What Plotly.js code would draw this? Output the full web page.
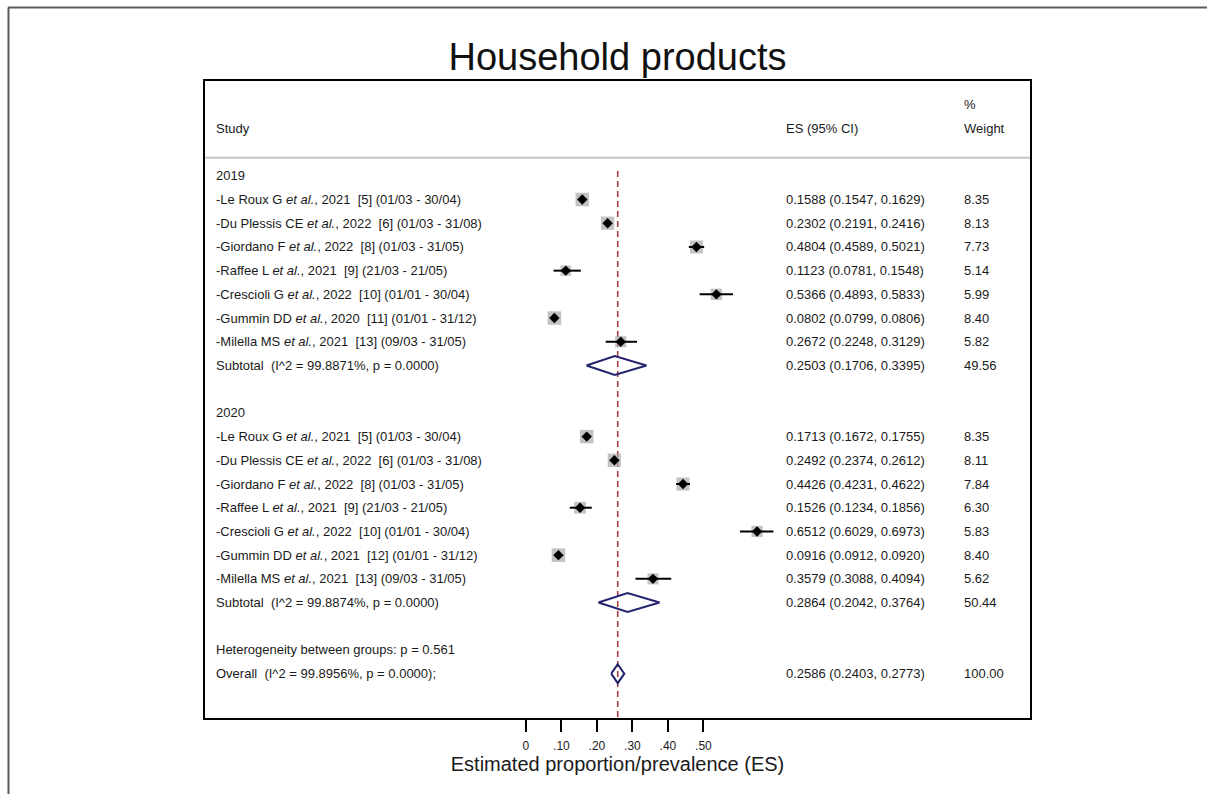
<!DOCTYPE html>
<html><head><meta charset="utf-8">
<script src="https://cdn.plot.ly/plotly-3.0.1.min.js"></script>
<style>html,body{margin:0;padding:0;background:#fff;} #chart{width:1207px;height:794px;}</style>
</head><body><div id="chart"></div>
<script>
// ---------------- data ----------------
const chartTitle = "Household products";
const xTitle = "Estimated proportion/prevalence (ES)";
const tickVals = [0, 0.1, 0.2, 0.3, 0.4, 0.5];
const tickText = ["0", ".10", ".20", ".30", ".40", ".50"];

const groupNames = ["2019", "2020"];

const studies2019 = [
  "-Le Roux G <i>et al.</i>, 2021 \u00a0[5] (01/03 - 30/04)",
  "-Du Plessis CE <i>et al.</i>, 2022 \u00a0[6] (01/03 - 31/08)",
  "-Giordano F <i>et al.</i>, 2022 \u00a0[8] (01/03 - 31/05)",
  "-Raffee L <i>et al.</i>, 2021 \u00a0[9] (21/03 - 21/05)",
  "-Crescioli G <i>et al.</i>, 2022 \u00a0[10] (01/01 - 30/04)",
  "-Gummin DD <i>et al.</i>, 2020 \u00a0[11] (01/01 - 31/12)",
  "-Milella MS <i>et al.</i>, 2021 \u00a0[13] (09/03 - 31/05)"
];
const es2019 = [0.1588, 0.2302, 0.4804, 0.1123, 0.5366, 0.0802, 0.2672];
const lo2019 = [0.1547, 0.2191, 0.4589, 0.0781, 0.4893, 0.0799, 0.2248];
const hi2019 = [0.1629, 0.2416, 0.5021, 0.1548, 0.5833, 0.0806, 0.3129];
const wt2019 = [8.35, 8.13, 7.73, 5.14, 5.99, 8.40, 5.82];

const studies2020 = [
  "-Le Roux G <i>et al.</i>, 2021 \u00a0[5] (01/03 - 30/04)",
  "-Du Plessis CE <i>et al.</i>, 2022 \u00a0[6] (01/03 - 31/08)",
  "-Giordano F <i>et al.</i>, 2022 \u00a0[8] (01/03 - 31/05)",
  "-Raffee L <i>et al.</i>, 2021 \u00a0[9] (21/03 - 21/05)",
  "-Crescioli G <i>et al.</i>, 2022 \u00a0[10] (01/01 - 30/04)",
  "-Gummin DD <i>et al.</i>, 2021 \u00a0[12] (01/01 - 31/12)",
  "-Milella MS <i>et al.</i>, 2021 \u00a0[13] (09/03 - 31/05)"
];
const es2020 = [0.1713, 0.2492, 0.4426, 0.1526, 0.6512, 0.0916, 0.3579];
const lo2020 = [0.1672, 0.2374, 0.4231, 0.1234, 0.6029, 0.0912, 0.3088];
const hi2020 = [0.1755, 0.2612, 0.4622, 0.1856, 0.6973, 0.0920, 0.4094];
const wt2020 = [8.35, 8.11, 7.84, 6.30, 5.83, 8.40, 5.62];

const subtotalLabels = ["Subtotal \u00a0(I^2 = 99.8871%, p = 0.0000)", "Subtotal \u00a0(I^2 = 99.8874%, p = 0.0000)"];
const subtotalES = [0.2503, 0.2864];
const subtotalLo = [0.1706, 0.2042];
const subtotalHi = [0.3395, 0.3764];
const subtotalWt = [49.56, 50.44];

const heteroLabel = "Heterogeneity between groups: p = 0.561";
const overallLabel = "Overall \u00a0(I^2 = 99.8956%, p = 0.0000);";
const overallES = 0.2586, overallLo = 0.2403, overallHi = 0.2773, overallWt = 100.00;

// ---------------- layout constants ----------------
const FONT = "Liberation Sans, Arial, sans-serif";
const TXT = "#1a1a1a";
const YTOP = -4.0, YBOT = 22.87;
const colStudy = 0.0125, colES = 0.703, colWt = 0.9185;
const DIAM_H = 0.4;
const NAVY = "#23236e";

const groupData = [
  {names: studies2019, es: es2019, lo: lo2019, hi: hi2019, wt: wt2019},
  {names: studies2020, es: es2020, lo: lo2020, hi: hi2020, wt: wt2020}
];

const annotations = [];
function txt(text, xp, y, size) {
  annotations.push({text: text, xref: "paper", yref: "y", x: xp, y: y, xanchor: "left", yanchor: "middle",
    showarrow: false, font: {family: FONT, size: size || 13, color: TXT}, borderpad: 0});
}
const ciText = (e, l, h) => e.toFixed(4) + " (" + l.toFixed(4) + ", " + h.toFixed(4) + ")";

// header
txt("Study", colStudy, -2);
txt("ES (95% CI)", colES, -2);
txt("%", colWt, -3);
txt("Weight", colWt, -2);

const sqX = [], sqY = [], sqS = [];
const ptX = [], ptY = [], ptP = [], ptM = [];
const traces = [];
let row = 0;
groupData.forEach((g, gi) => {
  txt(groupNames[gi], colStudy, row);
  row++;
  g.es.forEach((e, i) => {
    txt(g.names[i], colStudy, row);
    txt(ciText(e, g.lo[i], g.hi[i]), colES, row);
    txt(g.wt[i].toFixed(2), colWt, row);
    sqX.push(e); sqY.push(row); sqS.push(4.66 * Math.sqrt(g.wt[i]));
    ptX.push(e); ptY.push(row); ptP.push(g.hi[i] - e); ptM.push(e - g.lo[i]);
    row++;
  });
  txt(subtotalLabels[gi], colStudy, row);
  txt(ciText(subtotalES[gi], subtotalLo[gi], subtotalHi[gi]), colES, row);
  txt(subtotalWt[gi].toFixed(2), colWt, row);
  traces.push({type: "scatter", mode: "lines", hoverinfo: "skip",
    x: [subtotalLo[gi], subtotalES[gi], subtotalHi[gi], subtotalES[gi], subtotalLo[gi]],
    y: [row, row - DIAM_H, row, row + DIAM_H, row],
    line: {color: NAVY, width: 2}});
  row += 2;
});
txt(heteroLabel, colStudy, row);
row++;
txt(overallLabel, colStudy, row);
txt(ciText(overallES, overallLo, overallHi), colES, row);
txt(overallWt.toFixed(2), colWt, row);
traces.push({type: "scatter", mode: "lines", hoverinfo: "skip",
  x: [overallLo, overallES, overallHi, overallES, overallLo],
  y: [row, row - DIAM_H, row, row + DIAM_H, row],
  line: {color: NAVY, width: 2}});

traces.unshift({type: "scatter", mode: "markers", hoverinfo: "skip", x: ptX, y: ptY,
  marker: {symbol: "diamond", size: 8, color: "#000"},
  error_x: {type: "data", symmetric: false, array: ptP, arrayminus: ptM, thickness: 2, width: 0, color: "#000"}});
traces.unshift({type: "scatter", mode: "markers", hoverinfo: "skip", x: sqX, y: sqY,
  marker: {symbol: "square", size: sqS, color: "#a9a9a9", line: {width: 0}}});

const layout = {
  width: 1207, height: 794,
  margin: {l: 205, r: 177, t: 81, b: 76},
  paper_bgcolor: "#fff", plot_bgcolor: "#fff",
  showlegend: false,
  font: {family: FONT, color: TXT},
  title: {text: chartTitle, font: {family: FONT, size: 38, color: "#111"},
    xref: "paper", x: 0.5, xanchor: "center", yref: "container", y: 0.928, yanchor: "middle"},
  xaxis: {range: [-0.904, 1.42], showgrid: false, zeroline: false,
    showline: true, mirror: true, linecolor: "#000", linewidth: 2,
    tickmode: "array", tickvals: tickVals, ticktext: tickText,
    ticks: "outside", ticklen: 12, tickwidth: 2, tickcolor: "#000",
    ticklabelstandoff: 4,
    tickfont: {family: FONT, size: 12, color: TXT},
    title: {text: xTitle, font: {family: FONT, size: 20, color: TXT}, standoff: 4}},
  yaxis: {range: [YBOT, YTOP], showgrid: false, zeroline: false, showticklabels: false,
    showline: true, mirror: true, linecolor: "#000", linewidth: 2, ticks: ""},
  annotations: annotations,
  shapes: [
    {type: "line", xref: "paper", yref: "y", x0: 0, x1: 1, y0: -0.76, y1: -0.76,
      line: {color: "#c4c4c4", width: 2}},
    {type: "line", xref: "x", yref: "y", x0: overallES, x1: overallES, y0: -0.2, y1: YBOT,
      line: {color: "#a8323c", width: 1.5, dash: "6px,4px"}, layer: "below"},
    {type: "line", xref: "paper", yref: "paper", x0: -0.2388, x1: 1.26, y0: 1.1154, y1: 1.1154,
      line: {color: "#5a5a5a", width: 2}},
    {type: "line", xref: "paper", yref: "paper", x0: -0.2382, x1: -0.2382, y0: 1.1154, y1: -0.13,
      line: {color: "#5a5a5a", width: 2}}
  ]
};

Plotly.newPlot("chart", traces, layout, {staticPlot: true, displayModeBar: false});
</script>
</body></html>
